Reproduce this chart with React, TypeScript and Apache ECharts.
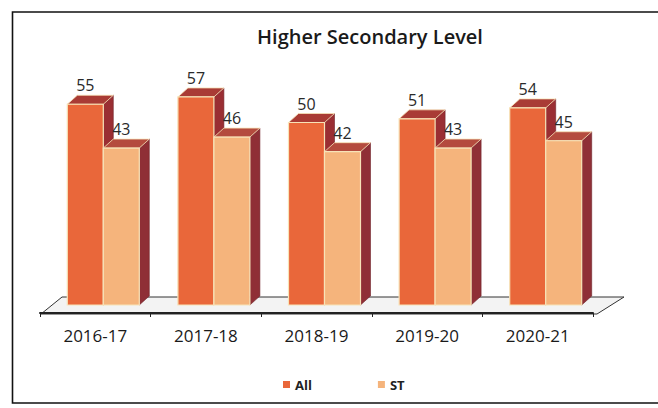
import React, { useEffect, useRef } from "react";
import * as echarts from "echarts";

const categories = ["2016-17", "2017-18", "2018-19", "2019-20", "2020-21"];
const allValues = [55, 57, 50, 51, 54];
const stValues = [43, 46, 42, 43, 45];
const seriesNames = ["All", "ST"];

const W = 36; // bar front width
const D = 10; // depth dx
const DY = 9; // depth dy
const SHIFT_X = 8;
const SHIFT_Y = -8;

const palettes = [
  { front: "#E9673A", top: "#A93B35", side: "#9A2E33", legend: "#E9673A" },
  { front: "#F5B47C", top: "#B44B3E", side: "#8F2F36", legend: "#F5B47C" },
];

function makeRender(si: number) {
  return (params: any, api: any) => {
    const idx = api.value(0);
    const val = api.value(1);
    const base = api.coord([idx, 0]);
    const top = api.coord([idx, val]);
    const x0 = base[0] + SHIFT_X + (si === 0 ? -W : 0);
    const yb = base[1] + SHIFT_Y;
    const yt = top[1] + SHIFT_Y;
    const p = palettes[si];
    const edge = "#F7E3B8";
    return {
      type: "group",
      children: [
        {
          type: "polygon",
          shape: { points: [[x0 + W, yt], [x0 + W + D, yt - DY], [x0 + W + D, yb - DY], [x0 + W, yb]] },
          style: { fill: p.side, stroke: "#6e2228", lineWidth: 0.6 },
        },
        {
          type: "polygon",
          shape: { points: [[x0, yt], [x0 + D, yt - DY], [x0 + W + D, yt - DY], [x0 + W, yt]] },
          style: { fill: p.top, stroke: edge, lineWidth: 0.8 },
        },
        {
          type: "rect",
          shape: { x: x0, y: yt, width: W, height: yb - yt },
          style: { fill: p.front, stroke: edge, lineWidth: 1.2 },
        },
        {
          type: "text",
          style: {
            text: String(val),
            x: x0 + W / 2,
            y: yt - DY - 2,
            align: "center",
            verticalAlign: "bottom",
            fontSize: 16,
            fontFamily: "Open Sans",
            fill: "#2a2a2a",
          },
        },
      ],
    };
  };
}

export default function App() {
  const ref = useRef<HTMLDivElement>(null);
  useEffect(() => {
    document.body.style.margin = "0";
    const chart = echarts.init(ref.current!, null, { renderer: "svg" });
    chart.setOption({
      animation: false,
      backgroundColor: "#ffffff",
      title: {
        text: "Higher Secondary Level",
        left: 365,
        top: 21,
        textAlign: "center",
        textStyle: { fontSize: 20, fontWeight: 600, fontFamily: "Open Sans", color: "#1a1a1a" },
      },
      legend: {
        data: seriesNames.map((n, i) => ({ name: n, icon: "rect", itemStyle: { color: palettes[i].legend } })),
        left: 278,
        top: 373,
        itemWidth: 7,
        itemHeight: 7,
        itemGap: 66,
        textStyle: { fontSize: 13, fontWeight: "bold", fontFamily: "Open Sans", color: "#222" },
      },
      graphic: [
        {
          type: "polyline",
          shape: { points: [[680, 12], [12.5, 12], [12.5, 403], [680, 403]] },
          style: { stroke: "#111", lineWidth: 1.6, fill: "none" },
          z: 0,
        },
        {
          type: "polygon",
          shape: { points: [[41, 314], [597, 314], [624, 297], [62, 297]] },
          style: { fill: "#f3f3f3", stroke: "#333", lineWidth: 1 },
          z: 0,
        },
      ],
      grid: { left: 40, right: 65, top: 57.5, bottom: 95 },
      xAxis: {
        type: "category",
        data: categories,
        axisLine: { show: true, lineStyle: { color: "#222", width: 2 } },
        axisTick: { show: true, length: 4, lineStyle: { color: "#222" } },
        axisLabel: { fontSize: 17, fontFamily: "Open Sans", color: "#1a1a1a", margin: 14 },
        z: 5,
      },
      yAxis: { type: "value", min: 0, max: 70, show: false, splitLine: { show: false } },
      series: [
        {
          name: seriesNames[0],
          type: "custom",
          itemStyle: { color: palettes[0].legend },
          data: allValues.map((v, i) => [i, v]),
          renderItem: makeRender(0),
          z: 3,
        },
        {
          name: seriesNames[1],
          type: "custom",
          itemStyle: { color: palettes[1].legend },
          data: stValues.map((v, i) => [i, v]),
          renderItem: makeRender(1),
          z: 4,
        },
      ],
    });
    return () => chart.dispose();
  }, []);
  return <div ref={ref} style={{ width: 658, height: 408 }} />;
}
